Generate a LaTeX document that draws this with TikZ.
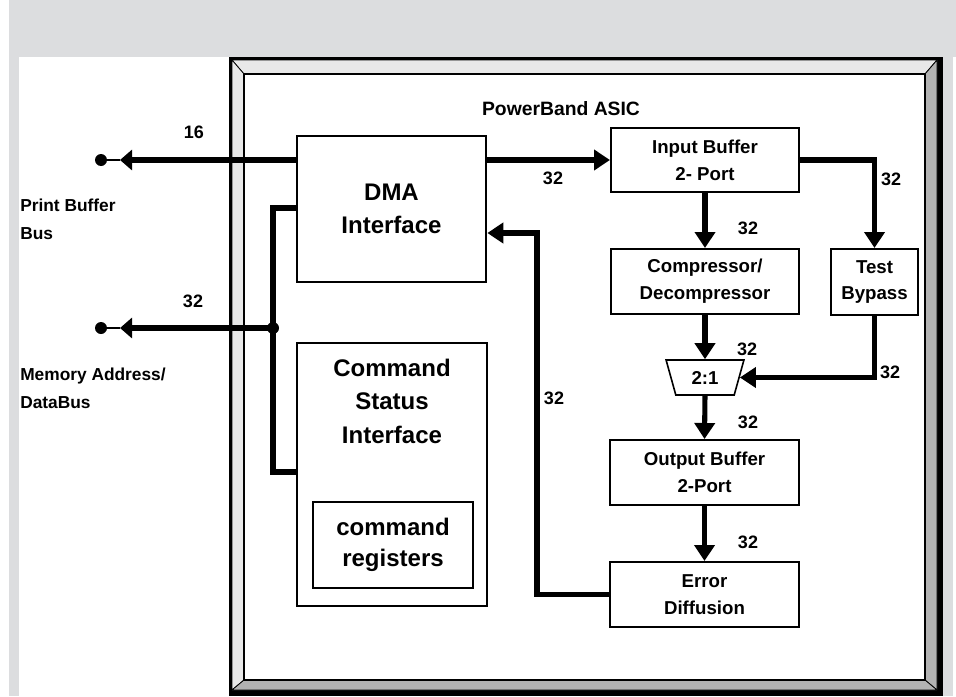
\documentclass[tikz,border=0pt]{standalone}
\usepackage{fontspec}
\setmainfont{Liberation Sans}
\usetikzlibrary{arrows.meta,shapes.geometric}
\definecolor{bggray}{RGB}{220,221,223}
\definecolor{lightbevel}{RGB}{232,232,232}
\definecolor{darkbevel}{RGB}{178,178,178}
\tikzset{
  box/.style={draw, line width=1.5pt, fill=white, align=center, inner sep=0pt,
    font=\bfseries\fontsize{14}{20}\selectfont},
  bigbox/.style={box, line width=2pt, font=\bfseries\fontsize{18}{25}\selectfont},
  bus/.style={line width=3.8pt},
  wire/.style={bus, -{Triangle[length=12pt,width=15pt]}},
  portwire/.style={bus, -{Triangle[length=9pt,width=15pt]}},
  buslabel/.style={font=\bfseries\fontsize{13.5}{15}\selectfont, inner sep=1pt},
  sidelabel/.style={anchor=west, align=left, inner sep=0pt,
    font=\bfseries\fontsize{13}{21}\selectfont},
  busdot/.style={circle, fill=black, inner sep=0pt, minimum size=9pt}
}
\begin{document}
\begin{tikzpicture}[x=0.75pt,y=-0.75pt]
\useasboundingbox (0,0) rectangle (956,696);
\fill[white] (0,0) rectangle (956,696);
\fill[bggray] (9,0) rectangle (956,57);
\fill[bggray] (9,0) rectangle (19,696);
\fill[bggray] (943,0) rectangle (953,696);

% chip frame
\fill[black] (229,57) rectangle (943,696);
\filldraw[fill=lightbevel, draw=black, line width=0.6pt] (232,60) -- (937,60) -- (925,74) -- (244,74) -- cycle;
\filldraw[fill=lightbevel, draw=black, line width=0.6pt] (232,60) -- (244,74) -- (244,680) -- (232,690) -- cycle;
\filldraw[fill=darkbevel, draw=black, line width=0.6pt] (937,60) -- (937,690) -- (925,680) -- (925,74) -- cycle;
\filldraw[fill=darkbevel, draw=black, line width=0.6pt] (232,690) -- (937,690) -- (925,680) -- (244,680) -- cycle;
\filldraw[fill=white, draw=black, line width=1.5pt] (244,74) rectangle (925,680);

\node[font=\bfseries\fontsize{14.5}{16}\selectfont] (title) at (561,109) {PowerBand ASIC};

\node[bigbox, minimum width=141.75pt, minimum height=109.5pt] (dma) at (391.5,209) {DMA\\Interface};
\node[bigbox, minimum width=142.5pt, minimum height=197.25pt, text depth=110pt] (cmd) at (392,474.5) {Command\\Status\\Interface};
\node[box, line width=1.1pt, minimum width=120pt, minimum height=64.5pt,
  font=\bfseries\fontsize{18}{23}\selectfont] (cmdreg) at (393,545) {command\\registers};
\node[box, minimum width=141pt, minimum height=48pt] (inbuf) at (705,160) {Input Buffer\\2- Port};
\node[box, minimum width=141pt, minimum height=48.75pt] (comp) at (705,281.5) {Compressor/\\Decompressor};
\node[box, minimum width=65.25pt, minimum height=49.5pt] (bypass) at (874.5,282) {Test\\Bypass};
\node[trapezium, draw, line width=1.2pt, fill=white, trapezium stretches=true,
  trapezium left angle=109, trapezium right angle=109, inner sep=0pt,
  minimum width=58.5pt, minimum height=26.25pt,
  font=\bfseries\fontsize{14}{16}\selectfont] (mux) at (705,377.5) {2:1};
\node[box, minimum width=141.75pt, minimum height=48.75pt] (outbuf) at (704.5,472.5) {Output Buffer\\2-Port};
\node[box, minimum width=141.75pt, minimum height=48.75pt] (errdiff) at (704.5,594.5) {Error\\Diffusion};

\node[sidelabel] (pbblbl) at (20,219) {Print Buffer\\Bus};
\node[sidelabel] (memlbl) at (20,388) {Memory Address/\\DataBus};

\coordinate (pbbtip) at (120,160);
\node[busdot] (pbbdot) at (101,160) {};
\draw[portwire] (dma.west |- pbbtip) -- (pbbtip);
\draw[line width=2.2pt] (pbbdot) -- (pbbtip);

\node[busdot] (jn) at (273,328) {};
\coordinate (memtip) at (120,328);
\node[busdot] (memdot) at (101,328) {};
\draw[portwire] (jn.center) -- (memtip);
\draw[line width=2.2pt] (memdot) -- (memtip);
\coordinate (bustop) at (273,208);
\coordinate (busbot) at (273,472);
\draw[bus] (dma.west |- bustop) -- (bustop) -- (busbot) -- (cmd.west |- busbot);

\draw[wire] (dma.east |- inbuf.west) -- (inbuf.west);
\draw[wire] (inbuf.south) -- (comp.north);
\draw[wire] (inbuf.east) -| (bypass.north);
\draw[wire] (comp.south) -- (mux.north);
\draw[wire] (bypass.south) |- (mux.east);
\draw[wire] (mux.south) -- (outbuf.north);
\draw[wire] (outbuf.south) -- (errdiff.north);
\coordinate (fbtop) at (537,233);
\draw[wire] (errdiff.west) -| (fbtop) -- (dma.east |- fbtop);

\node[buslabel] (w16) at (194,132) {16};
\node[buslabel] (wmem) at (193,301) {32};
\node[buslabel] (win) at (553,178) {32};
\node[buslabel] (wcomp) at (748,228) {32};
\node[buslabel] (wbyp) at (891,179) {32};
\node[buslabel] (wmuxa) at (747,349) {32};
\node[buslabel] (wmuxb) at (890,372) {32};
\node[buslabel] (wout) at (748,422) {32};
\node[buslabel] (werr) at (748,542) {32};
\node[buslabel] (wfb) at (554,398) {32};
\end{tikzpicture}
\end{document}
